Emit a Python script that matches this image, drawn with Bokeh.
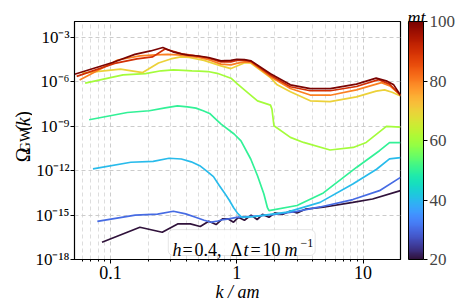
import numpy as np
from bokeh.plotting import figure
from bokeh.layouts import row
from bokeh.models import (FixedTicker, LinearColorMapper, ColorBar, Label,
                          BoxAnnotation, Range1d)
from bokeh.palettes import Turbo256
from bokeh.embed import file_html
from bokeh.resources import INLINE
from bokeh.core.properties import value

# ---------------- data ----------------
times = [20, 30, 40, 50, 60, 70, 80, 90, 100]

k_t20 = [0.0857, 0.171, 0.257, 0.343, 0.429, 0.514, 0.6, 0.686, 0.771, 0.857, 0.943, 1.03,
         1.15, 1.3, 1.45, 1.6, 1.8, 2.0, 2.3, 2.66, 3.0, 3.5, 4.83, 8.3, 11.9, 19.8]
log_omega_t20 = [-16.83, -15.82, -16.16, -15.59, -15.59, -15.77, -15.42, -15.64, -15.26, -15.26,
                 -15.48, -15.15, -15.35, -15.0, -15.3, -14.95, -15.15, -14.85, -14.95, -14.72,
                 -14.85, -14.6, -14.47, -14.14, -13.91, -13.35]

k_t30 = [0.0787, 0.157, 0.236, 0.315, 0.394, 0.472, 0.551, 0.63, 0.708, 0.787, 0.866, 1.0,
         1.5, 2.0, 3.0, 4.57, 8.3, 13.5, 19.8]
log_omega_t30 = [-15.42, -15.0, -14.93, -14.74, -14.92, -15.15, -15.35, -15.48, -15.4, -15.3,
                 -15.25, -15.15, -15.05, -14.95, -14.75, -14.45, -13.95, -13.35, -12.45]

k_t40 = [0.0727, 0.145, 0.218, 0.291, 0.364, 0.436, 0.509, 0.582, 0.654, 0.727, 0.8, 0.873,
         0.945, 1.02, 1.1, 1.36, 2.51, 4.57, 8.3, 12.8, 16.2, 19.8]
log_omega_t40 = [-11.88, -11.43, -11.37, -11.16, -11.21, -11.40, -11.66, -12.05, -12.4, -13.0,
                 -13.5, -14.0, -14.5, -14.9, -15.15, -15.1, -14.8, -14.14, -12.9, -11.9,
                 -11.2, -11.12]

k_t50 = [0.0678, 0.136, 0.203, 0.271, 0.339, 0.407, 0.475, 0.542, 0.61, 0.678, 0.752, 0.953,
         1.08, 1.29, 1.46, 1.64, 1.75, 1.8, 3.0, 4.85, 8.87, 13.5, 16.2, 19.8]
log_omega_t50 = [-8.56, -8.07, -7.95, -7.75, -7.62, -7.69, -7.77, -7.95, -8.13, -8.5, -8.85,
                 -9.52, -9.98, -11.21, -12.34, -13.57, -14.5, -14.7, -14.35, -13.5, -11.78,
                 -10.65, -10.1, -10.1]

k_t60 = [0.063, 0.126, 0.189, 0.252, 0.315, 0.378, 0.441, 0.504, 0.591, 0.7, 0.9, 1.016,
         1.22, 1.46, 1.85, 1.9, 1.97, 2.66, 3.38, 5.48, 8.36, 10.6, 15.3, 19.8]
log_omega_t60 = [-6.08, -5.53, -5.44, -5.25, -5.19, -5.22, -5.26, -5.27, -5.30, -5.42, -5.75,
                 -6.15, -6.72, -7.28, -7.57, -7.84, -8.96, -9.75, -10.09, -10.6, -10.43,
                 -10.09, -9.0, -9.05]

k_t70 = [0.06, 0.12, 0.18, 0.24, 0.3, 0.36, 0.42, 0.55, 0.75, 0.9, 1.145, 1.29, 1.85, 2.09,
         2.66, 3.82, 5.48, 8.87, 12.7, 14.8, 17.0, 19.8]
log_omega_t70 = [-5.41, -5.14, -5.37, -4.72, -4.45, -4.31, -4.35, -4.55, -4.92, -5.1, -4.72,
                 -4.72, -5.71, -6.2, -6.67, -7.28, -7.33, -7.01, -6.62, -6.54, -6.7, -6.95]

k_t80 = [0.057, 0.114, 0.171, 0.228, 0.285, 0.342, 0.4, 0.5, 0.6, 0.75, 0.9, 1.0, 1.15, 1.3,
         1.85, 2.66, 3.82, 5.5, 8.87, 14.0, 16.5, 19.8]
log_omega_t80 = [-5.88, -4.52, -4.24, -4.18, -4.14, -4.18, -4.24, -4.35, -4.5, -4.8, -4.85,
                 -4.75, -4.65, -4.68, -5.65, -6.45, -6.89, -6.9, -6.54, -6.05, -6.3, -6.9]

k_t90 = [0.054, 0.108, 0.162, 0.216, 0.27, 0.324, 0.378, 0.45, 0.6, 0.75, 0.9, 1.0, 1.15, 1.3,
         1.85, 2.66, 3.82, 5.5, 8.87, 13.3, 16.2, 19.8]
log_omega_t90 = [-5.63, -4.75, -4.45, -4.31, -3.78, -3.97, -4.13, -4.2, -4.4, -4.65, -4.65,
                 -4.55, -4.55, -4.62, -5.55, -6.33, -6.6, -6.6, -6.31, -5.85, -6.15, -6.9]

k_t100 = [0.052, 0.104, 0.156, 0.208, 0.26, 0.312, 0.364, 0.416, 0.5, 0.6, 0.75, 0.9, 1.0,
          1.15, 1.3, 1.85, 2.66, 3.82, 5.5, 8.87, 12.7, 15.5, 17.5, 19.8]
log_omega_t100 = [-5.48, -4.69, -4.14, -3.91, -3.68, -3.97, -4.11, -4.2, -4.25, -4.35, -4.58,
                  -4.55, -4.47, -4.5, -4.58, -5.45, -6.2, -6.45, -6.45, -6.15, -5.75, -5.95,
                  -6.2, -6.9]

k_series = [k_t20, k_t30, k_t40, k_t50, k_t60, k_t70, k_t80, k_t90, k_t100]
omega_series = [log_omega_t20, log_omega_t30, log_omega_t40, log_omega_t50, log_omega_t60,
                log_omega_t70, log_omega_t80, log_omega_t90, log_omega_t100]

x_ticks = [0.1, 1, 10]
x_tick_labels = ["0.1", "1", "10"]
y_ticks = [1e-18, 1e-15, 1e-12, 1e-9, 1e-6, 1e-3]
y_tick_labels = ["10\u207b\u00b9\u2078", "10\u207b\u00b9\u2075", "10\u207b\u00b9\u00b2",
                 "10\u207b\u2079", "10\u207b\u2076", "10\u207b\u00b3"]
cbar_ticks = [20, 40, 60, 80, 100]
t_low, t_high = 20, 100

FONT = "Liberation Serif"
STRIP_W = 32
FRAME_H = 308 - 21 - 49

# ---------------- main figure ----------------
p = figure(width=458 - STRIP_W, height=308, x_axis_type="log", y_axis_type="log",
           x_range=Range1d(0.0519, 19.8), y_range=Range1d(1e-18, 10 ** -1.92),
           output_backend="svg", toolbar_location=None,
           min_border_left=72 - STRIP_W, min_border_right=57, min_border_top=21,
           min_border_bottom=49)

p.outline_line_color = "black"
p.outline_line_width = 1.2
p.background_fill_color = "white"
p.border_fill_color = "white"

minor_x = [0.06, 0.07, 0.08, 0.09] + [m / 10 for m in range(2, 10)] + list(range(2, 10)) + [20]
p.xaxis.ticker = FixedTicker(ticks=x_ticks, minor_ticks=minor_x)
p.xaxis.major_label_overrides = {t: s for t, s in zip(x_ticks, x_tick_labels)}
p.yaxis.ticker = FixedTicker(ticks=y_ticks, minor_ticks=[])
p.yaxis.major_label_overrides = {t: s for t, s in zip(y_ticks, y_tick_labels)}

for ax in (p.xaxis, p.yaxis):
    ax.major_label_text_font = FONT
    ax.major_label_text_color = "black"
    ax.axis_line_color = "black"
    ax.major_tick_line_color = "black"
    ax.minor_tick_line_color = "black"
    ax.major_tick_in = 0
    ax.major_tick_out = 4
    ax.minor_tick_in = 0
    ax.minor_tick_out = 2
p.xaxis.major_label_text_font_size = "18px"
p.yaxis.major_label_text_font_size = "17px"
p.xaxis.major_label_standoff = 2
p.yaxis.major_label_standoff = 1
p.xaxis.axis_label = "k / am"
p.xaxis.axis_label_text_font = FONT
p.xaxis.axis_label_text_font_size = "18px"
p.xaxis.axis_label_text_font_style = "italic"
p.xaxis.axis_label_text_color = "black"
p.xaxis.axis_label_standoff = 0

p.xgrid.grid_line_color = "#cccccc"
p.xgrid.grid_line_dash = "4 3"
p.xgrid.minor_grid_line_color = "#dddddd"
p.xgrid.minor_grid_line_dash = "4 3"
p.ygrid.grid_line_color = "#cccccc"
p.ygrid.grid_line_dash = "4 3"

# ---------------- curves ----------------
for t, ks, lo in zip(times, k_series, omega_series):
    idx = int(round((t - t_low) / (t_high - t_low) * 255))
    p.line(ks, [10 ** v for v in lo], line_color=Turbo256[idx], line_width=1.7)

# ---------------- colour bar ----------------
mapper = LinearColorMapper(palette=Turbo256, low=t_low, high=t_high)
cb = ColorBar(color_mapper=mapper, ticker=FixedTicker(ticks=cbar_ticks), width=15,
              height=FRAME_H, location=(8, 0),
              padding=0, margin=0, major_tick_in=0, major_tick_out=4,
              major_tick_line_color="black", bar_line_color="black",
              major_label_text_font=FONT, major_label_text_font_size="17px",
              label_standoff=2)
p.add_layout(cb, "right")


def lab(text, x, y, size="18px", style="normal", angle=0.0, align="left", where=None):
    l = Label(x=x, y=y, x_units="screen", y_units="screen", text=text,
              text_font=FONT, text_font_size=size, text_font_style=style,
              angle=angle, text_align=align, text_baseline="alphabetic",
              text_color="black")
    if where is None:
        p.add_layout(l)
    else:
        p.add_layout(l, where)


# ---------------- annotation box ----------------
p.add_layout(BoxAnnotation(left=0.287, right=4.18, bottom=10 ** -17.73, top=10 ** -15.98,
                           fill_color="white", fill_alpha=0.85, line_color="#aaaaaa",
                           line_width=1, border_radius=5))
lab("h", 98, 10, style="italic")
lab("=", 108, 10)
lab("0.4,", 120, 10)
lab("\u0394", 156, 10)
lab("t", 169, 10, style="italic")
lab("=", 176, 10)
lab("10", 188, 10)
lab("m", 210, 10, style="italic")
lab("\u22121", 226, 17, size="12px")

# colour-bar title
lab("mt", 333, 4, style="italic", where="above")

# ---------------- y-axis title strip ----------------
s = figure(width=STRIP_W, height=308, x_range=Range1d(0, STRIP_W), y_range=Range1d(0, 308),
           output_backend="svg", toolbar_location=None,
           min_border_left=0, min_border_right=0, min_border_top=0, min_border_bottom=0,
           x_axis_location=None, y_axis_location=None, outline_line_color=None)
s.xgrid.visible = False
s.ygrid.visible = False
ang = np.pi / 2
# each piece is anchored at its upper end (text_align="right" on the rotated text)
title_parts = ["\u03a9", "GW", "(", "k", ")"]
title_x = [22, 25, 22, 22, 22]
title_y = [145, 169, 175, 184, 192]
title_size = ["20px", "14px", "20px", "20px", "20px"]
title_style = ["normal", "normal", "normal", "italic", "normal"]
for txt, tx, ty, sz, st in zip(title_parts, title_x, title_y, title_size, title_style):
    s.text(x=[tx], y=[ty], text=[txt], angle=ang, text_font=value(FONT),
           text_font_size=sz, text_font_style=st, text_align="right",
           text_baseline="alphabetic", text_color="black")

layout = row(s, p)
open("out.html", "w").write(file_html(layout, INLINE))
